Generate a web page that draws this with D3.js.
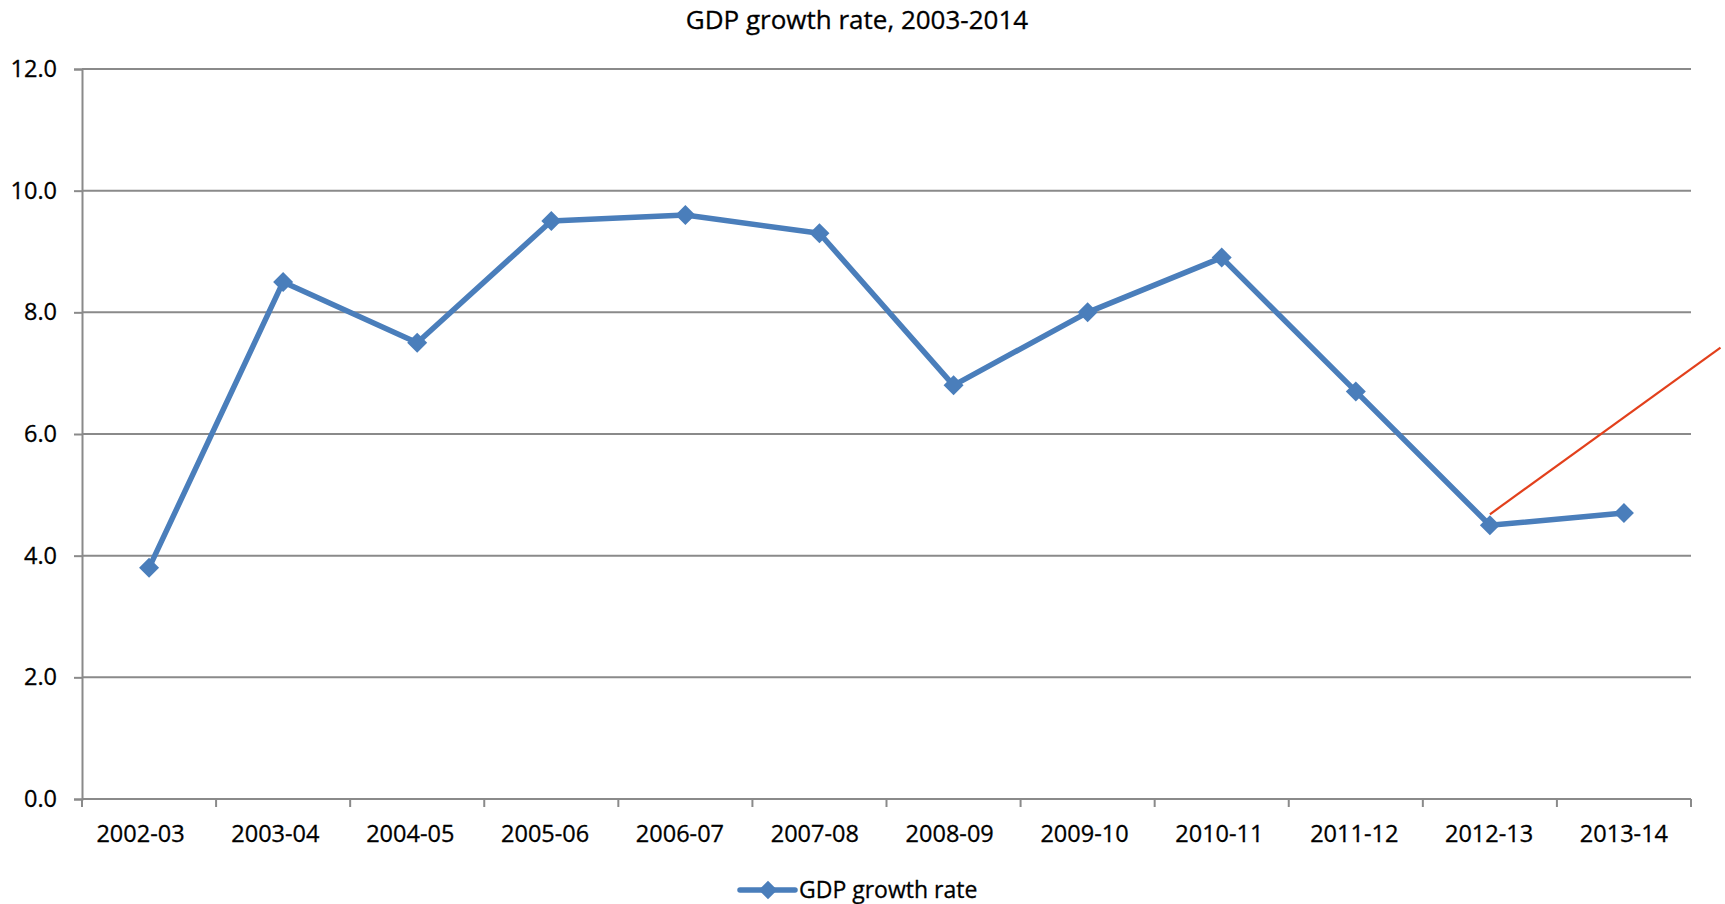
<!DOCTYPE html>
<html>
<head>
<meta charset="utf-8">
<script src="https://cdn.jsdelivr.net/npm/d3@7"></script>
<style>
  html, body { margin: 0; padding: 0; background: #fff; }
  svg text { font-family: "Open Sans", "Liberation Sans", sans-serif; fill: #000; stroke: #000; stroke-width: 0.3px; }
</style>
</head>
<body>
<svg id="chart" width="1725" height="904"></svg>
<script>
const title = "GDP growth rate, 2003-2014";
const seriesName = "GDP growth rate";
const categories = ["2002-03","2003-04","2004-05","2005-06","2006-07","2007-08","2008-09","2009-10","2010-11","2011-12","2012-13","2013-14"];
const gdpGrowth = [3.8, 8.5, 7.5, 9.5, 9.6, 9.3, 6.8, 8.0, 8.9, 6.7, 4.5, 4.7];
const yTicks = [0, 2, 4, 6, 8, 10, 12];
// hand-drawn annotation line: [category position (index units), value]
const annotationPos = [10, 11.72];
const annotationVal = [4.68, 7.42];

const svg = d3.select("#chart");
const margin = {left: 82, right: 34, top: 69, bottom: 105};
const W = 1725, H = 904;
const x0 = margin.left, x1 = W - margin.right;
const y0 = H - margin.bottom, y1 = margin.top;

const x = d3.scaleBand().domain(categories).range([x0, x1]);
const xPos = d3.scaleLinear().domain([0, categories.length]).range([x0, x1]);
const y = d3.scaleLinear().domain([0, 12]).range([y0, y1]);
// category labels sit slightly left of band centre at the start of the axis
const labelShift = d3.scaleLinear().domain([0, categories.length - 1]).range([-8.5, 0]);

const gridColor = "#8a8a8a";

// gridlines
svg.append("g").selectAll("line").data(yTicks.filter(d => d > 0)).join("line")
  .attr("x1", x0).attr("x2", x1)
  .attr("y1", d => y(d)).attr("y2", d => y(d))
  .attr("stroke", gridColor).attr("stroke-width", 2);

// y axis
const yAxis = d3.axisLeft(y).tickValues(yTicks).tickFormat(d3.format(".1f")).tickSize(8).tickPadding(17);
const gy = svg.append("g").attr("transform", `translate(${x0},0)`).call(yAxis);
gy.select(".domain").attr("stroke", gridColor).attr("stroke-width", 2);
gy.selectAll(".tick line").attr("stroke", gridColor).attr("stroke-width", 2);
gy.selectAll(".tick text").attr("font-size", 23.5).attr("font-family", "Open Sans").attr("fill", "#000");

// x axis (ticks at category boundaries)
const gx = svg.append("g").attr("transform", `translate(0,${y0})`);
gx.append("line").attr("x1", x0).attr("x2", x1).attr("y1", 0).attr("y2", 0)
  .attr("stroke", gridColor).attr("stroke-width", 2);
gx.selectAll("line.tk").data(d3.range(categories.length + 1)).join("line").attr("class", "tk")
  .attr("x1", d => xPos(d)).attr("x2", d => xPos(d))
  .attr("y1", 0).attr("y2", 8)
  .attr("stroke", gridColor).attr("stroke-width", 2);
gx.selectAll("text").data(categories).join("text")
  .attr("x", (d, i) => x(d) + x.bandwidth() / 2 + labelShift(i))
  .attr("y", 43)
  .attr("text-anchor", "middle")
  .attr("font-size", 23.5)
  .text(d => d);

// annotation line (red)
svg.append("line")
  .attr("x1", xPos(annotationPos[0] + 0.5)).attr("y1", y(annotationVal[0]))
  .attr("x2", xPos(annotationPos[1] + 0.5)).attr("y2", y(annotationVal[1]))
  .attr("stroke", "#e2401c").attr("stroke-width", 2.2);

// series line
const blue = "#4a7ebb";
const line = d3.line().x((d, i) => x(categories[i]) + x.bandwidth() / 2).y(d => y(d));
svg.append("path").datum(gdpGrowth)
  .attr("d", line)
  .attr("fill", "none").attr("stroke", blue).attr("stroke-width", 5.5)
  .attr("stroke-linejoin", "round");

const diamond = d3.symbol().type(d3.symbolSquare).size(200);
svg.append("g").selectAll("path").data(gdpGrowth).join("path")
  .attr("d", diamond)
  .attr("transform", (d, i) => `translate(${x(categories[i]) + x.bandwidth() / 2},${y(d)}) rotate(45)`)
  .attr("fill", blue);

// title
svg.append("text")
  .attr("x", 857).attr("y", 29)
  .attr("text-anchor", "middle")
  .attr("font-size", 26)
  .text(title);

// legend
const lg = svg.append("g").attr("transform", "translate(740,890)");
lg.append("line").attr("x1", 0).attr("x2", 55).attr("y1", 0).attr("y2", 0)
  .attr("stroke", blue).attr("stroke-width", 5.5).attr("stroke-linecap", "round");
lg.append("path").attr("d", d3.symbol().type(d3.symbolSquare).size(170))
  .attr("transform", "translate(28,0) rotate(45)").attr("fill", blue);
lg.append("text").attr("x", 59).attr("y", 8).attr("font-size", 23).text(seriesName);
</script>
</body>
</html>
